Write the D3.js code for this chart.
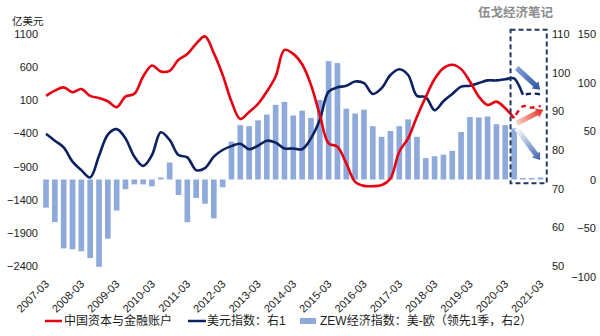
<!DOCTYPE html>
<html><head><meta charset="utf-8">
<script src="https://cdn.jsdelivr.net/npm/d3@7"></script>
<style>
html,body{margin:0;padding:0;background:#fff;}
svg{display:block;font-family:"Liberation Sans",Arial,"Noto Sans CJK SC",sans-serif;}
</style></head><body>
<svg id="c" width="600" height="336"></svg>
<script>
const categories = [
"2007-03","2007-06","2007-09","2007-12","2008-03","2008-06","2008-09","2008-12",
"2009-03","2009-06","2009-09","2009-12","2010-03","2010-06","2010-09","2010-12",
"2011-03","2011-06","2011-09","2011-12","2012-03","2012-06","2012-09","2012-12",
"2013-03","2013-06","2013-09","2013-12","2014-03","2014-06","2014-09","2014-12",
"2015-03","2015-06","2015-09","2015-12","2016-03","2016-06","2016-09","2016-12",
"2017-03","2017-06","2017-09","2017-12","2018-03","2018-06","2018-09","2018-12",
"2019-03","2019-06","2019-09","2019-12","2020-03","2020-06","2020-09","2020-12",
"2021-03"];
const xTickLabels = ["2007-03","2008-03","2009-03","2010-03","2011-03","2012-03","2013-03",
"2014-03","2015-03","2016-03","2017-03","2018-03","2019-03","2020-03","2021-03"];

// 中国资本与金融账户 (亿美元, left axis) 2007-03 .. 2020-06
const capitalAccount = [167,245,295,222,270,167,135,85,-5,156,197,459,625,534,545,711,
797,953,1064,812,484,80,-182,-75,45,232,458,860,800,643,333,-121,
-549,-600,-852,-1130,-1191,-1195,-1180,-1079,-676,-474,-147,150,420,585,635,570,
383,156,30,80,-20,-170];
const capitalAccountForecastCats = ["2020-06","2020-09","2020-12","2021-03"];
const capitalAccountForecast = [-170,10,-10,15];

// 美元指数 (right axis 1) 2007-03 .. 2020-09
const usdIndex = [84.2,82.4,80.7,77.0,74.8,72.9,78.5,84.0,85.4,83.0,78.3,75.9,78.7,84.6,82.6,78.7,
78.1,74.8,75.3,78.3,80.0,81.0,81.6,80.2,81.1,82.4,81.9,80.4,80.4,80.2,83.0,87.8,
95.1,96.2,96.6,97.7,97.3,94.5,96.0,99.4,100.9,99.4,94.0,93.7,90.3,92.6,94.5,96.4,
96.6,97.3,98.0,98.0,98.3,98.5,94.3];
const usdIndexForecastCats = ["2020-09","2020-12","2021-03"];
const usdIndexForecast = [94.3,94.6,94.4];

// ZEW经济指数：美-欧 (领先1季, right axis 2)
const zewSpread = [-29,-44,-71,-72,-74,-81,-90,-61,-32,-10,-5,-5,-7,2,17.5,-16,
-44,-19,-25,-40,-8,39,56,55,61,67,77,80,66,71,63.5,82,
122,120,73,68,72,55,44,50,55,62,44,22,24,25.6,29.5,49,
64.5,64,65,57,56,52.6,1.5,1.5,2];

const leftTicks = [1100,600,100,-400,-900,-1400,-1900,-2400];
const right1Ticks = [110,100,90,80,70,60,50];
const right2Ticks = [150,100,50,0,-50,-100];

// annotation arrows: [from category index, value] -> [to category index, value] on right axis 1
const arrowFromIdx = [53.3, 53.3, 53.3];
const arrowFromVal = [101.2, 86.9, 85.6];
const arrowToIdx   = [55.95, 56.3, 55.95];
const arrowToVal   = [95.6, 90.4, 77.4];
// forecast box: category index range and right-axis-1 value range
const boxIdx = [52.6, 56.7];
const boxVal = [71.4, 111.1];

const svg = d3.select("#c");
const RED = "#e50012", NAVY = "#0b2160", BAR = "#8eaadb";

const x = d3.scaleBand().domain(categories).range([41.6, 545]).paddingInner(0.36).paddingOuter(0.18);
const xc = c => x(c) + x.bandwidth()/2;
const xi = i => xc(categories[0]) + i * x.step();
const yL = d3.scaleLinear().domain([-2400, 1100]).range([266, 34]);
const yR1 = d3.scaleLinear().domain([50, 110]).range([266, 34]);
const yR2 = d3.scaleLinear().domain([-100, 150]).range([276.5, 34]);

// bars
svg.append("g").selectAll("rect").data(zewSpread).join("rect")
  .attr("x", (d,i) => x(categories[i]))
  .attr("width", x.bandwidth())
  .attr("y", d => Math.min(yR2(d), yR2(0)))
  .attr("height", d => Math.abs(yR2(d) - yR2(0)))
  .attr("fill", BAR);

const curve = d3.curveCatmullRom.alpha(0.5);
const lineL = d3.line().x(d => xc(d[0])).y(d => yL(d[1])).curve(curve);
const lineR = d3.line().x(d => xc(d[0])).y(d => yR1(d[1])).curve(curve);

svg.append("path").datum(usdIndex.map((v,i)=>[categories[i], v]))
  .attr("d", lineR).attr("fill","none").attr("stroke", NAVY).attr("stroke-width", 2.6);
svg.append("path").datum(usdIndexForecast.map((v,i)=>[usdIndexForecastCats[i], v]))
  .attr("d", lineR).attr("fill","none").attr("stroke", NAVY).attr("stroke-width", 2.4)
  .attr("stroke-dasharray","5,4").attr("stroke-dashoffset", -3);

svg.append("path").datum(capitalAccount.map((v,i)=>[categories[i], v]))
  .attr("d", lineL).attr("fill","none").attr("stroke", RED).attr("stroke-width", 2.6);
svg.append("path").datum(capitalAccountForecast.map((v,i)=>[capitalAccountForecastCats[i], v]))
  .attr("d", lineL).attr("fill","none").attr("stroke", RED).attr("stroke-width", 2.4)
  .attr("stroke-dasharray","5,4").attr("stroke-dashoffset", -4);

// dashed forecast box
svg.append("rect")
  .attr("x", xi(boxIdx[0])).attr("width", xi(boxIdx[1]) - xi(boxIdx[0]))
  .attr("y", yR1(boxVal[1])).attr("height", yR1(boxVal[0]) - yR1(boxVal[1]))
  .attr("fill","none").attr("stroke","#1f3864").attr("stroke-width",2)
  .attr("stroke-dasharray","5,3");

// arrows
const defs = svg.append("defs");
const arrowColors = [["#7f9fd6","#2d52a0"],["#f9d2c8","#e2291c"],["#ffffff","#3a62ad"]];
arrowFromIdx.forEach((fi, k) => {
  const x1 = xi(fi), y1 = yR1(arrowFromVal[k]), x2 = xi(arrowToIdx[k]), y2 = yR1(arrowToVal[k]);
  const gid = "ag" + k;
  const g = defs.append("linearGradient").attr("id", gid).attr("gradientUnits","userSpaceOnUse")
    .attr("x1", x1).attr("y1", y1).attr("x2", x2).attr("y2", y2);
  g.append("stop").attr("offset","0%").attr("stop-color", arrowColors[k][0]);
  g.append("stop").attr("offset","100%").attr("stop-color", arrowColors[k][1]);
  const L = Math.hypot(x2-x1, y2-y1), ux = (x2-x1)/L, uy = (y2-y1)/L, px = -uy, py = ux;
  const sw = 2.6, hw = 5, hl = 7;
  const bx = x2 - ux*hl, by = y2 - uy*hl;
  const pts = [
    [x1+px*sw, y1+py*sw],[bx+px*sw, by+py*sw],[bx+px*hw, by+py*hw],[x2,y2],
    [bx-px*hw, by-py*hw],[bx-px*sw, by-py*sw],[x1-px*sw, y1-py*sw]];
  svg.append("path").attr("d", "M" + pts.map(p=>p.join(",")).join("L") + "Z")
    .attr("fill", `url(#${gid})`);
});

// axes
const fmt = d3.format("d");
const axL = svg.append("g").attr("transform","translate(41,0)")
  .call(d3.axisLeft(yL).tickValues(leftTicks).tickFormat(fmt).tickSize(0).tickPadding(3));
const axR1 = svg.append("g").attr("transform","translate(549,0)")
  .call(d3.axisRight(yR1).tickValues(right1Ticks).tickFormat(fmt).tickSize(0).tickPadding(3));
const axR2 = svg.append("g").attr("transform","translate(596,0)")
  .call(d3.axisLeft(yR2).tickValues(right2Ticks).tickFormat(fmt).tickSize(0).tickPadding(0));
[axL, axR1, axR2].forEach(a => {
  a.select(".domain").remove();
  a.selectAll("text").attr("font-size", 11).attr("fill", "#1a1a1a")
    .attr("font-family", '"Liberation Sans",Arial,sans-serif');
});

// x labels
svg.append("g").selectAll("text").data(xTickLabels).join("text")
  .attr("transform", d => `translate(${xc(d)+1},282) rotate(-45)`)
  .attr("text-anchor","end").attr("dy","0.35em")
  .attr("font-size", 11).attr("fill","#1a1a1a").text(d => d);

// unit label
svg.append("text").attr("x", 12).attr("y", 21).attr("dy","0.35em")
  .attr("font-size", 10.5).attr("fill","#1a1a1a")
  .attr("font-family",'"Noto Sans CJK SC",sans-serif').text("亿美元");

// watermark title
svg.append("text").attr("x", 478).attr("y", 13).attr("dy","0.35em")
  .attr("font-size", 12.5).attr("font-weight","bold").attr("fill","#8c8c8c")
  .attr("font-family",'"Noto Sans CJK SC",sans-serif').text("伍戈经济笔记");

// legend
const lg = svg.append("g").attr("font-size", 12).attr("fill","#1a1a1a");
lg.append("line").attr("x1",45).attr("x2",62).attr("y1",321).attr("y2",321).attr("stroke",RED).attr("stroke-width",2.5);
lg.append("text").attr("x",64).attr("y",321).attr("dy","0.35em").text("中国资本与金融账户");
lg.append("line").attr("x1",188).attr("x2",206).attr("y1",321).attr("y2",321).attr("stroke",NAVY).attr("stroke-width",2.5);
lg.append("text").attr("x",207).attr("y",321).attr("dy","0.35em").text("美元指数：右1");
lg.append("rect").attr("x",300).attr("y",318).attr("width",16).attr("height",6).attr("fill",BAR);
lg.append("text").attr("x",320).attr("y",321).attr("dy","0.35em").text("ZEW经济指数：美-欧（领先1季，右2）");
</script>
</body></html>
